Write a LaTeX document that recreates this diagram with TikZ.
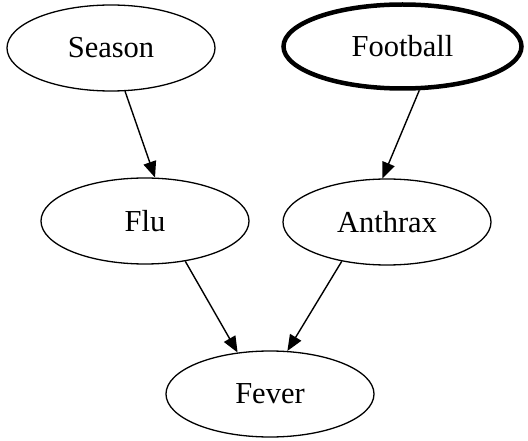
\documentclass[tikz,border=0pt]{standalone}
\usepackage{fontspec}
\setmainfont{Liberation Serif}
\usetikzlibrary{shapes.geometric,arrows.meta}

\tikzset{
  var/.style={ellipse, draw, line width=1.3pt, inner sep=0pt,
    minimum width=208pt, minimum height=86pt,
    font=\fontsize{30.5}{36}\selectfont},
  obs/.style={var, line width=4.5pt, minimum width=238pt, minimum height=84pt},
  link/.style={line width=1.4pt, -{Triangle[length=16pt,width=13pt]}}
}

\begin{document}
\begin{tikzpicture}[x=1pt, y=-1pt]
  \path[use as bounding box, fill=white] (0,0) rectangle (528,441);

  \node[var] (season)   at (111,48)    {Season};
  \node[obs] (football) at (402.5,46.5) {Football};
  \node[var] (flu)      at (145,221)   {Flu};
  \node[var] (anthrax)  at (387,222)   {Anthrax};
  \node[var] (fever)    at (270,394)   {Fever};

  \draw[link] (season.-72)     -- (flu.77);
  \draw[link] (football.-69)   -- (anthrax.96);
  \draw[link] (flu.-45)        -- (fever.128);
  \draw[link] (anthrax.-139)   -- (fever.68);
\end{tikzpicture}
\end{document}
